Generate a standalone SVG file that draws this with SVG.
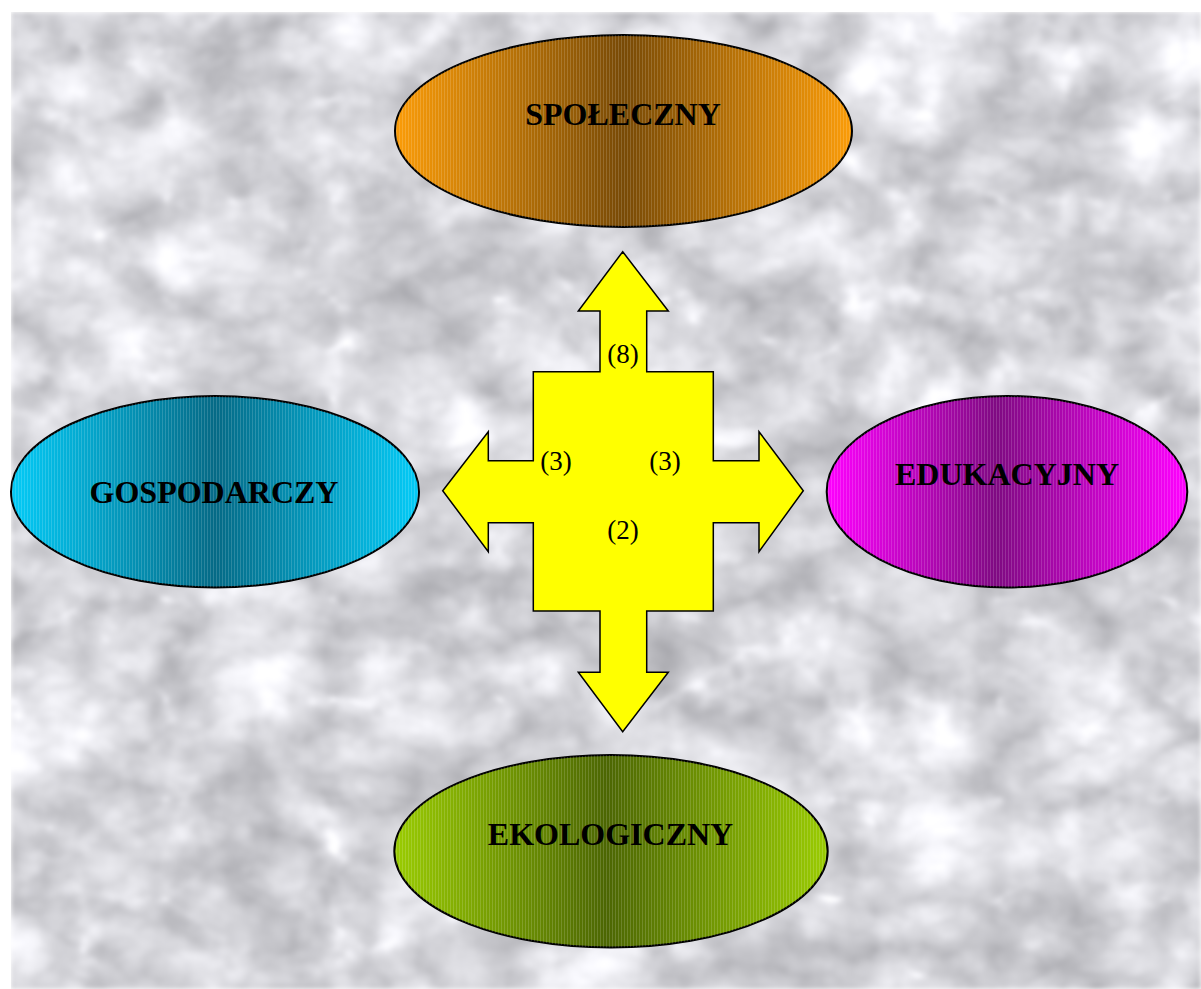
<svg xmlns="http://www.w3.org/2000/svg" width="1201" height="989" viewBox="0 0 1201 989">
<style>
.lbl{font-family:"Liberation Serif","Times New Roman",serif;font-weight:bold;font-size:32px;fill:#000;text-anchor:middle}
.num{font-family:"Liberation Serif","Times New Roman",serif;font-size:27px;fill:#000;text-anchor:middle}
.ell{stroke:#000;stroke-width:2}
.str{fill:url(#stripes);stroke:none}
</style>
<defs>
<filter id="marble" x="0" y="0" width="100%" height="100%" color-interpolation-filters="sRGB">
<feTurbulence type="turbulence" baseFrequency="0.006 0.01" numOctaves="4" seed="7" result="t"/>
<feTurbulence type="fractalNoise" baseFrequency="0.025" numOctaves="3" seed="3" result="n"/>
<feComposite in="t" in2="n" operator="arithmetic" k1="0" k2="1.2" k3="0.4" k4="0" result="m"/>
<feColorMatrix in="m" type="matrix" values="0.6 0 0 0 0.62  0.6 0 0 0 0.62  0.6 0 0 0 0.64  0 0 0 0 1" result="c"/>
<feGaussianBlur in="c" stdDeviation="2"/>
</filter>
<linearGradient id="gOr" x1="0" x2="1" y1="0" y2="0">
<stop offset="0" stop-color="#fb9c08"/><stop offset="0.5" stop-color="#784a06"/><stop offset="1" stop-color="#fb9c08"/>
</linearGradient>
<linearGradient id="gBl" x1="0" x2="1" y1="0" y2="0">
<stop offset="0" stop-color="#03cbf7"/><stop offset="0.5" stop-color="#056a86"/><stop offset="1" stop-color="#03cbf7"/>
</linearGradient>
<linearGradient id="gMg" x1="0" x2="1" y1="0" y2="0">
<stop offset="0" stop-color="#ff00ff"/><stop offset="0.47" stop-color="#7f0a82"/><stop offset="1" stop-color="#ff00ff"/>
</linearGradient>
<linearGradient id="gGr" x1="0" x2="1" y1="0" y2="0">
<stop offset="0" stop-color="#9acc02"/><stop offset="0.49" stop-color="#4c6603"/><stop offset="1" stop-color="#9acc02"/>
</linearGradient>
<pattern id="stripes" width="3" height="10" patternUnits="userSpaceOnUse">
<rect x="0" y="0" width="0.7" height="10" fill="#fff" fill-opacity="0.22"/>
</pattern>
</defs>
<rect x="0" y="0" width="1201" height="989" fill="#fff"/>
<rect x="11" y="12" width="1190" height="977" fill="#e6e6e8" filter="url(#marble)"/>
<g id="connectors">
<path d="M622.7,251.7 L668.3,311 L646.7,311 L646.7,371.7 L713.3,371.7 L713.3,460.7 L759,460.7 L759,431.7 L803.3,490.7 L759,551.7 L759,522.7 L713.3,522.7 L713.3,611 L646.7,611 L646.7,672.3 L668.3,672.3 L622.7,731.7 L578.3,672.3 L600,672.3 L600,611 L533.3,611 L533.3,522.7 L488.3,522.7 L488.3,551.7 L442.7,490.7 L488.3,431.7 L488.3,460.7 L533.3,460.7 L533.3,371.7 L600,371.7 L600,311 L578.3,311 Z" fill="#ffff00" stroke="#000" stroke-width="1.5" stroke-linejoin="miter"/>
<text class="num" x="623" y="363">(8)</text>
<text class="num" x="556" y="470">(3)</text>
<text class="num" x="665" y="470">(3)</text>
<text class="num" x="623" y="539">(2)</text>
</g>
<g id="spoleczny">
<ellipse class="ell" cx="623.5" cy="131" rx="228.5" ry="96" fill="url(#gOr)"/>
<ellipse class="str" cx="623.5" cy="131" rx="228.5" ry="96"/>
<text class="lbl" x="623" y="125">SPOŁECZNY</text>
</g>
<g id="gospodarczy">
<ellipse class="ell" cx="215" cy="491.7" rx="204" ry="95.7" fill="url(#gBl)"/>
<ellipse class="str" cx="215" cy="491.7" rx="204" ry="95.7"/>
<text class="lbl" x="214" y="503">GOSPODARCZY</text>
</g>
<g id="edukacyjny">
<ellipse class="ell" cx="1007" cy="491.7" rx="180.3" ry="95.7" fill="url(#gMg)"/>
<ellipse class="str" cx="1007" cy="491.7" rx="180.3" ry="95.7"/>
<text class="lbl" x="1007" y="485">EDUKACYJNY</text>
</g>
<g id="ekologiczny">
<ellipse class="ell" cx="611" cy="851.3" rx="216.7" ry="96.3" fill="url(#gGr)"/>
<ellipse class="str" cx="611" cy="851.3" rx="216.7" ry="96.3"/>
<text class="lbl" x="610.5" y="845">EKOLOGICZNY</text>
</g>
</svg>
